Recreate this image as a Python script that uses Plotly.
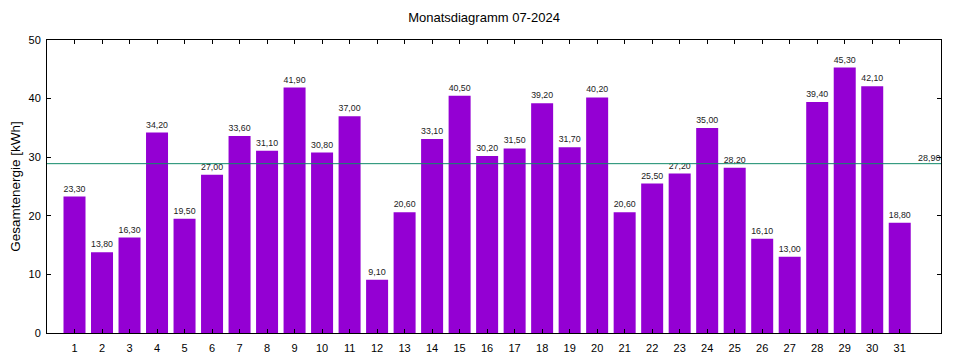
import plotly.graph_objects as go

days = list(range(1, 32))
energy = [23.3, 13.8, 16.3, 34.2, 19.5, 27.0, 33.6, 31.1, 41.9, 30.8, 37.0, 9.1,
          20.6, 33.1, 40.5, 30.2, 31.5, 39.2, 31.7, 40.2, 20.6, 25.5, 27.2, 35.0,
          28.2, 16.1, 13.0, 39.4, 45.3, 42.1, 18.8]
title = "Monatsdiagramm 07-2024"
y_title = "Gesamtenergie [kWh]"

avg = sum(energy) / len(energy)

def de(v):
    return f"{v:.2f}".replace(".", ",")

fig = go.Figure()
fig.add_trace(go.Bar(
    x=days, y=energy, width=0.8,
    marker=dict(color="#9400D3", line=dict(width=0)),
    text=[de(v) for v in energy], textposition="outside",
    textfont=dict(family="Liberation Sans, Arial", size=9, color="#222222"),
    cliponaxis=False, hoverinfo="x+y",
))
fig.add_shape(type="line", xref="paper", x0=0, x1=1, yref="y", y0=avg, y1=avg,
              line=dict(color="#118a6a", width=1))
fig.add_annotation(xref="paper", x=1.002, yref="y", y=avg, text=de(avg),
                   showarrow=False, xanchor="right", yanchor="bottom", yshift=-1,
                   font=dict(family="Liberation Sans, Arial", size=9, color="#222222"))

# page body has an 8px default margin, so the figure is sized/offset to compensate
fig.update_layout(
    width=952, height=352,
    margin=dict(l=39, r=19, t=32, b=27),
    paper_bgcolor="white", plot_bgcolor="white",
    showlegend=False, bargap=0.2,
    title=dict(text=title, x=0.5, xanchor="center", y=0.972, yanchor="middle",
               font=dict(family="Liberation Sans, Arial", size=13, color="#000000")),
    font=dict(family="Liberation Sans, Arial", size=11, color="#000000"),
)
fig.update_xaxes(
    range=[0, 32.5], tickmode="array", tickvals=days, ticktext=[str(d) for d in days],
    ticks="inside", ticklen=4, tickcolor="black", mirror="ticks",
    showline=True, linecolor="black", linewidth=1, showgrid=False, zeroline=False,
    tickfont=dict(size=11), ticklabelstandoff=5, automargin=False, fixedrange=True,
)
fig.update_yaxes(
    range=[0, 50], dtick=10, ticks="inside", ticklen=4, tickcolor="black", mirror="ticks",
    showline=True, linecolor="black", linewidth=1, showgrid=False, zeroline=False,
    tickfont=dict(size=11), ticklabelstandoff=3, automargin=False,
    title=dict(text=y_title, font=dict(size=13.5), standoff=9), fixedrange=True,
)

fig.write_html("out.html")
